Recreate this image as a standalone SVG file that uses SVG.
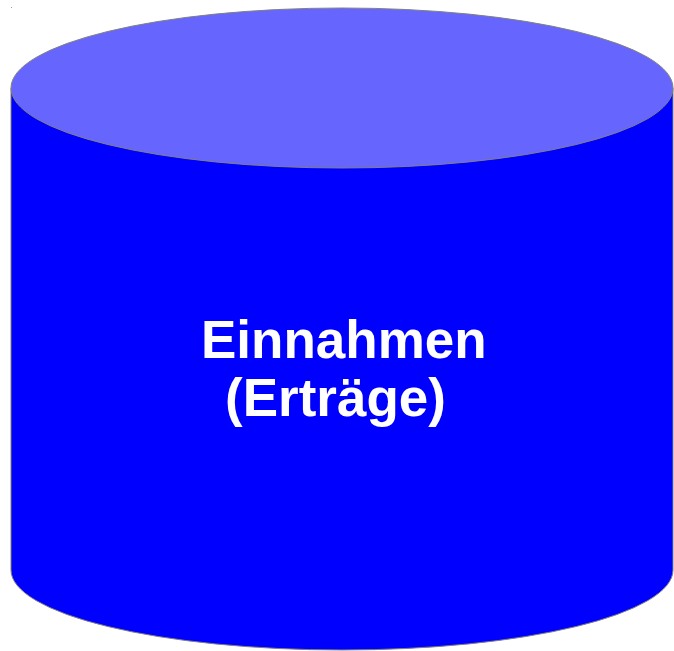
<svg xmlns="http://www.w3.org/2000/svg" width="674" height="651" viewBox="0 0 674 651">
<style>
.edge{stroke:#808080;stroke-width:1}
.lbl{font-family:"Liberation Sans",Arial,sans-serif;font-weight:bold;font-size:53px;fill:#ffffff}
</style>
<rect x="0" y="0" width="674" height="651" fill="#ffffff"/>
<rect x="11" y="7" width="1" height="1" fill="#999999"/>
<g id="cylinder">
<path class="edge" d="M11,88 L11,570 A331,80 0 0 0 673,570 L673,88 Z" fill="#0000ff"/>
<ellipse class="edge" cx="342" cy="88" rx="331" ry="80" fill="#6666ff"/>
<text class="lbl" x="201" y="358">Einnahmen</text>
<text class="lbl" x="225" y="416">(Erträge)</text>
</g>
<g id="connectors"></g>
</svg>
